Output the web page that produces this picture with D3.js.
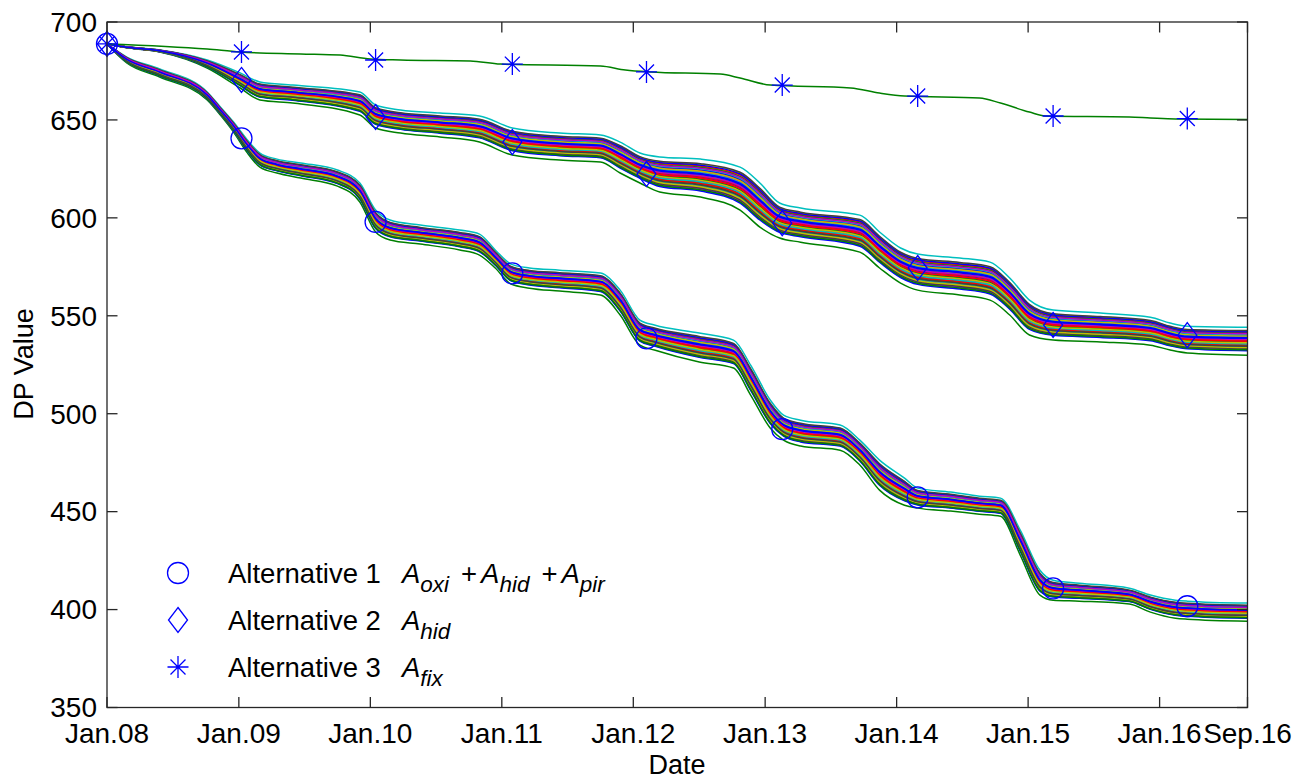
<!DOCTYPE html>
<html lang="en">
<head>
<meta charset="UTF-8">
<title>DP Value</title>
<script src="https://d3js.org/d3.v7.min.js"></script>
<style>
  body { margin: 0; background: #fff; }
  text { font-family: "Liberation Sans", Arial, sans-serif; fill: #000; }
  .axis-line { fill: none; stroke: #262626; stroke-width: 1.3; }
  .tick-line { stroke: #262626; stroke-width: 1.3; }
  .member { fill: none; stroke-width: 1.5; }
  .marker { fill: none; stroke: #0000ff; stroke-width: 1.3; }
</style>
</head>
<body>
<div id="chart"></div>
<script>
// ---- data (dates as decimal years, values in DP units) ----

// Alternative 1: upper (cyan) and lower (green) edge of the bundle of runs
var alt1Years = [2008.00, 2008.15, 2008.40, 2008.76, 2008.86, 2008.96, 2009.06, 2009.16, 2009.29, 2009.47,
                 2009.75, 2009.92, 2010.04, 2010.15, 2010.38, 2010.68, 2010.83, 2010.95, 2011.07, 2011.21,
                 2011.44, 2011.75, 2011.90, 2012.05, 2012.16, 2012.50, 2012.76, 2012.89, 2013.04, 2013.14,
                 2013.27, 2013.57, 2013.72, 2013.87, 2014.06, 2014.16, 2014.41, 2014.63, 2014.79, 2014.94,
                 2015.09, 2015.19, 2015.39, 2015.77, 2015.93, 2016.12, 2016.21, 2016.667];
var alt1Upper = [688.8, 682.1, 676.0, 664.3, 656.6, 648.9, 640.2, 633.1, 630.0, 628.0,
                 624.4, 617.8, 604.0, 598.9, 596.3, 593.8, 591.7, 583.6, 576.4, 574.4,
                 573.3, 571.8, 563.1, 547.8, 545.3, 541.2, 537.6, 524.8, 506.9, 499.3,
                 496.7, 494.2, 486.5, 476.3, 467.1, 462.0, 460.0, 457.9, 456.9, 440.6,
                 420.1, 415.0, 413.5, 410.9, 407.4, 404.8, 404.3, 403.3];
var alt1Lower = [688.8, 679.1, 671.9, 660.2, 652.5, 643.8, 633.6, 625.9, 622.9, 620.3,
                 616.2, 608.1, 592.8, 588.7, 586.6, 583.6, 581.0, 574.4, 566.2, 564.1,
                 562.6, 560.6, 550.4, 535.0, 532.5, 526.4, 523.3, 509.5, 492.6, 486.5,
                 483.5, 481.4, 473.8, 461.0, 453.3, 451.8, 450.3, 448.7, 447.7, 427.8,
                 407.4, 404.8, 404.3, 402.8, 398.7, 395.6, 395.1, 394.1];

// Alternative 2
var alt2Years = [2008.00, 2008.17, 2008.40, 2008.76, 2009.01, 2009.16, 2009.41, 2009.92, 2010.04, 2010.23,
                 2010.53, 2010.83, 2011.08, 2011.44, 2011.75, 2011.90, 2012.05, 2012.20, 2012.51, 2012.81,
                 2012.96, 2013.11, 2013.27, 2013.72, 2013.87, 2014.03, 2014.16, 2014.48, 2014.71, 2014.86,
                 2015.01, 2015.19, 2015.55, 2015.93, 2016.08, 2016.21, 2016.667];
var alt2Upper = [688.8, 687.2, 685.7, 680.6, 674.0, 669.4, 667.8, 664.3, 657.6, 655.1,
                 653.5, 652.0, 645.9, 643.3, 642.3, 638.7, 633.1, 631.1, 630.0, 625.9,
                 617.8, 607.6, 605.0, 601.4, 592.8, 584.6, 581.5, 579.5, 577.4, 569.3,
                 558.0, 552.9, 551.4, 549.3, 546.3, 544.7, 544.2];
var alt2Lower = [688.8, 686.7, 684.7, 676.5, 666.3, 660.2, 658.6, 652.5, 645.9, 643.3,
                 641.3, 638.7, 632.1, 629.5, 628.5, 622.9, 617.8, 613.2, 610.6, 604.0,
                 595.3, 589.7, 587.6, 582.5, 574.4, 566.7, 563.1, 560.6, 558.0, 550.4,
                 540.2, 537.6, 536.6, 535.0, 532.5, 531.0, 529.9];

// Alternative 3: a single run
var alt3Years  = [2008.00, 2008.76, 2009.01, 2009.47, 2009.77, 2010.00, 2010.23, 2010.76, 2010.99, 2011.75,
                  2011.94, 2012.13, 2012.66, 2012.81, 2013.04, 2013.65, 2013.87, 2014.06, 2014.63, 2014.79,
                  2015.01, 2015.13, 2015.77, 2015.93, 2016.12, 2016.667];
var alt3Values = [688.8, 686.2, 684.7, 683.7, 683.1, 681.1, 680.6, 680.1, 678.5, 677.5,
                  675.5, 674.5, 673.4, 671.4, 667.8, 666.3, 663.7, 662.2, 661.2, 658.6,
                  654.0, 652.0, 651.5, 651.0, 650.5, 650.2];

// marker positions
var markerYears = [2008.00, 2009.02, 2010.04, 2011.08, 2012.10, 2013.13, 2014.16, 2015.19, 2016.21];
var alt1Markers = [688.8, 640.6, 597.9, 571.7, 538.5, 492.1, 457.3, 410.8, 401.7];
var alt2Markers = [688.8, 670.4, 651.5, 638.7, 622.4, 597.3, 574.4, 545.3, 540.1];
var alt3Markers = [688.8, 684.7, 680.6, 678.5, 674.5, 667.8, 662.2, 652.0, 650.7];

// position of each run inside its bundle (0 = lower edge, 1 = upper edge), in plotting order
var memberFrac = [0.52, 0.00, 0.70, 1.00, 0.30, 0.80, 0.62, 0.22, 0.55, 0.40,
                  0.18, 0.66, 0.35, 0.75, 0.28, 0.60, 0.82, 0.45, 0.20, 0.58,
                  0.48, 0.72, 0.33, 0.25, 0.64, 0.50, 0.86, 0.38, 0.16, 0.78,
                  0.55, 0.30, 0.42, 0.68, 0.24, 0.84, 0.46, 0.36, 0.74, 0.56,
                  0.27, 0.88, 0.62, 0.19, 0.50, 0.40, 0.76, 0.44, 0.32, 0.60];

// axis ticks
var xTickDates  = ["2008-01-01", "2009-01-01", "2010-01-01", "2011-01-01", "2012-01-01",
                   "2013-01-01", "2014-01-01", "2015-01-01", "2016-01-01", "2016-09-01"];
var xTickLabels = ["Jan.08", "Jan.09", "Jan.10", "Jan.11", "Jan.12",
                   "Jan.13", "Jan.14", "Jan.15", "Jan.16", "Sep.16"];
var yTicks = [350, 400, 450, 500, 550, 600, 650, 700];

// matlab default line colours
var palette = ["#0000ff", "#008000", "#ff0000", "#00bfbf", "#bf00bf", "#bfbf00", "#404040"];

// ---- helpers ----
function yearToDate(t) {
  var y = Math.floor(t);
  var a = new Date(y, 0, 1), b = new Date(y + 1, 0, 1);
  return new Date(+a + (t - y) * (b - a));
}
var parseDay = d3.timeParse("%Y-%m-%d");

// ---- layout ----
var W = 1302, H = 780;
var plot = {left: 107, right: 1247.5, top: 22, bottom: 707.5};

var svg = d3.select("#chart").append("svg")
    .attr("width", W)
    .attr("height", H);

var x = d3.scaleTime()
    .domain([parseDay("2008-01-01"), parseDay("2016-09-01")])
    .range([plot.left, plot.right]);

var y = d3.scaleLinear()
    .domain([350, 700])
    .range([plot.bottom, plot.top]);

var line = d3.line()
    .x(function(d) { return x(d.date); })
    .y(function(d) { return y(d.v); })
    .curve(d3.curveMonotoneX);

// ---- bundles of runs ----
function drawBundle(years, lower, upper) {
  var g = svg.append("g");
  memberFrac.forEach(function(f, j) {
    var pts = years.map(function(t, i) {
      return {date: yearToDate(t), v: lower[i] + f * (upper[i] - lower[i])};
    });
    g.append("path")
      .attr("class", "member")
      .attr("d", line(pts))
      .style("stroke", palette[j % palette.length]);
  });
}
drawBundle(alt1Years, alt1Lower, alt1Upper);
drawBundle(alt2Years, alt2Lower, alt2Upper);

svg.append("path")
  .attr("class", "member")
  .attr("d", line(alt3Years.map(function(t, i) { return {date: yearToDate(t), v: alt3Values[i]}; })))
  .style("stroke", palette[1]);

// ---- markers ----
function circleMarker(g) { g.append("circle").attr("class", "marker").attr("r", 10.5); }
function diamondMarker(g) { g.append("path").attr("class", "marker").attr("d", "M0,-12.5L9.5,0L0,12.5L-9.5,0Z"); }
function starMarker(g) {
  g.append("path").attr("class", "marker")
    .attr("d", "M-10.5,0H10.5M0,-11V11M-7.5,-7.5L7.5,7.5M-7.5,7.5L7.5,-7.5");
}

function drawMarkers(values, shape) {
  svg.append("g").selectAll("g")
    .data(values)
    .enter().append("g")
      .attr("transform", function(d, i) { return "translate(" + x(yearToDate(markerYears[i])) + "," + y(d) + ")"; })
      .each(function() { shape(d3.select(this)); });
}
drawMarkers(alt1Markers, circleMarker);
drawMarkers(alt2Markers, diamondMarker);
drawMarkers(alt3Markers, starMarker);

// ---- axes box and ticks (matlab style: inward ticks mirrored on all sides) ----
svg.append("rect")
  .attr("class", "axis-line")
  .attr("x", plot.left).attr("y", plot.top)
  .attr("width", plot.right - plot.left).attr("height", plot.bottom - plot.top);

var tickLen = 10.5;
var axisG = svg.append("g");

xTickDates.forEach(function(s, i) {
  var px = x(parseDay(s));
  axisG.append("line").attr("class", "tick-line")
    .attr("x1", px).attr("x2", px).attr("y1", plot.bottom).attr("y2", plot.bottom - tickLen);
  axisG.append("line").attr("class", "tick-line")
    .attr("x1", px).attr("x2", px).attr("y1", plot.top).attr("y2", plot.top + tickLen);
  axisG.append("text")
    .attr("x", px).attr("y", 743)
    .attr("text-anchor", "middle")
    .style("font-size", "28px")
    .text(xTickLabels[i]);
});

yTicks.forEach(function(v) {
  var py = y(v);
  axisG.append("line").attr("class", "tick-line")
    .attr("x1", plot.left).attr("x2", plot.left + tickLen).attr("y1", py).attr("y2", py);
  axisG.append("line").attr("class", "tick-line")
    .attr("x1", plot.right).attr("x2", plot.right - tickLen).attr("y1", py).attr("y2", py);
  axisG.append("text")
    .attr("x", 97).attr("y", py)
    .attr("dy", "0.35em")
    .attr("text-anchor", "end")
    .style("font-size", "28px")
    .text(v);
});

// axis titles
svg.append("text")
  .attr("x", 677).attr("y", 774)
  .attr("text-anchor", "middle")
  .style("font-size", "27px")
  .text("Date");

svg.append("text")
  .attr("transform", "translate(33,364) rotate(-90)")
  .attr("text-anchor", "middle")
  .style("font-size", "27px")
  .text("DP Value");

// ---- legend ----
var legendRows = [
  {shape: circleMarker, label: "Alternative 1", terms: ["oxi", "hid", "pir"]},
  {shape: diamondMarker, label: "Alternative 2", terms: ["hid"]},
  {shape: starMarker, label: "Alternative 3", terms: ["fix"]}
];
var legendY = [573, 620, 667];

legendRows.forEach(function(row, i) {
  var g = svg.append("g").attr("transform", "translate(0," + legendY[i] + ")");
  g.append("g").attr("transform", "translate(178,0)").call(row.shape);
  var t = g.append("text").attr("x", 228).attr("y", 10).style("font-size", "27.5px");
  t.append("tspan").text(row.label);
  row.terms.forEach(function(sub, k) {
    if (k > 0) t.append("tspan").attr("dx", 12).attr("dy", -9).text("+");
    t.append("tspan")
      .attr("dx", k > 0 ? 4 : 21)
      .style("font-style", "italic")
      .text("A");
    t.append("tspan")
      .attr("dy", 9)
      .style("font-style", "italic")
      .style("font-size", "22.5px")
      .text(sub);
  });
});
</script>
</body>
</html>
